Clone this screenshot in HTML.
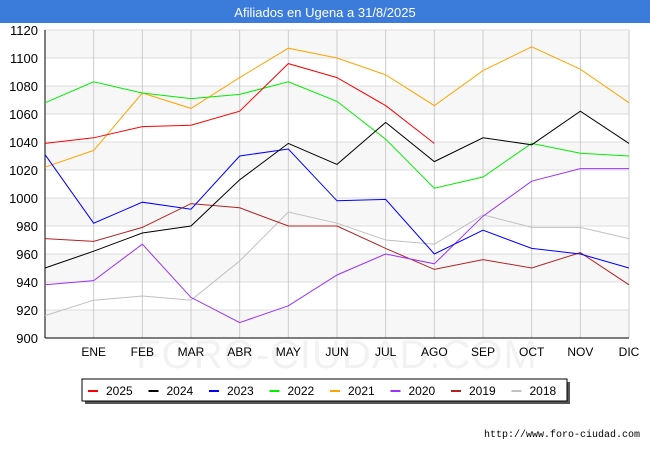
<!DOCTYPE html>
<html><head><meta charset="utf-8"><style>
body{margin:0;width:650px;height:450px;background:#fff;font-family:"Liberation Sans","DejaVu Sans",sans-serif;overflow:hidden}
</style></head><body>
<svg id="chart" width="650" height="450" xmlns="http://www.w3.org/2000/svg">
<rect x="0" y="0" width="650" height="23" fill="#3b7bd9"/>
<text x="325" y="17" text-anchor="middle" fill="#fff" font-size="13">Afiliados en Ugena a 31/8/2025</text>
<g id="plot"></g>
<text x="640" y="437" text-anchor="end" font-family="Liberation Mono, monospace" font-size="10" fill="#000">http://www.foro-ciudad.com</text>
</svg>
<script>
const months=["","ENE","FEB","MAR","ABR","MAY","JUN","JUL","AGO","SEP","OCT","NOV","DIC"];
const yTicks=[900,920,940,960,980,1000,1020,1040,1060,1080,1100,1120];
const years=["2025","2024","2023","2022","2021","2020","2019","2018"];
const colors=["#ff0000","#000000","#0000ff","#00ee00","#ffa500","#9b30ff","#b22222","#c0c0c0"];
const s2025=[1039,1043,1051,1052,1062,1096,1086,1066,1039];
const s2024=[950,962,975,980,1013,1039,1024,1054,1026,1043,1038,1062,1039];
const s2023=[1031,982,997,992,1030,1035,998,999,960,977,964,960,950];
const s2022=[1068,1083,1075,1071,1074,1083,1069,1042,1007,1015,1039,1032,1030];
const s2021=[1022,1034,1075,1064,1086,1107,1100,1088,1066,1091,1108,1092,1068];
const s2020=[938,941,967,929,911,923,945,960,953,987,1012,1021,1021];
const s2019=[971,969,979,996,993,980,980,964,949,956,950,961,938];
const s2018=[916,927,930,927,955,990,982,970,967,988,979,979,971];
const series=[s2025,s2024,s2023,s2022,s2021,s2020,s2019,s2018];
const L=45,R=629,T=30,B=338,ymin=900,ymax=1120;
const x=i=>L+(R-L)*i/12;
const y=v=>B-(v-ymin)*(B-T)/(ymax-ymin);
const NS="http://www.w3.org/2000/svg";
const g=document.getElementById('plot');
function mk(tag,attrs,parent){const e=document.createElementNS(NS,tag);for(const k in attrs)e.setAttribute(k,attrs[k]);(parent||g).appendChild(e);return e;}
for(let i=0;i<yTicks.length-1;i++){
 if((yTicks.length-2-i)%2===0){const b=mk('rect',{x:L,y:y(yTicks[i+1]),width:R-L,height:y(yTicks[i])-y(yTicks[i+1]),fill:'#f7f7f7'});
 
 }
}
const wm=mk('text',{x:337,y:368,'text-anchor':'middle','font-size':'40',fill:'#f2f2f2','letter-spacing':'1'});wm.textContent="FORO-CIUDAD.COM";


yTicks.forEach(v=>{
 const l=mk('line',{x1:L,x2:R,y1:y(v),y2:y(v),stroke:'#dddddd','stroke-width':1});
 
 
 const t=mk('text',{x:38,y:y(v)+5,'text-anchor':'end','font-size':'13',fill:'#000'});t.textContent=v;
 
 
});
months.forEach((m,i)=>{
 if(i>0){const l=mk('line',{x1:x(i),x2:x(i),y1:T,y2:B,stroke:'#cccccc','stroke-width':1});
 
 
 const t=mk('text',{x:x(i),y:356,'text-anchor':'middle','font-size':'12',fill:'#000'});t.textContent=m;
 
 }
});
const ax=mk('path',{d:`M${L},${B} L${L},${T} M${L},${B} L${R},${B}`,stroke:'#000',fill:'none','stroke-width':1});


for(let k=series.length-1;k>=0;k--){
 const p=mk('polyline',{points:series[k].map((v,i)=>x(i)+','+y(v)).join(' '),fill:'none',stroke:colors[k],'stroke-width':1});
 
 
}
const lg=mk('g',{});


mk('rect',{x:85,y:382,width:485,height:22,fill:'#555'},lg);
mk('rect',{x:82,y:379,width:485,height:22,fill:'#fff',stroke:'#000'},lg);
years.forEach((yr,k)=>{
 const ex=88+k*60.5;
 const e=mk('g',{},lg);
 
 
 mk('line',{x1:ex,x2:ex+10,y1:391,y2:391,stroke:colors[k],'stroke-width':2},e);
 const t=mk('text',{x:ex+18,y:395,'font-size':'12',fill:'#000'},e);t.textContent=yr;
});
</script>
</body></html>
